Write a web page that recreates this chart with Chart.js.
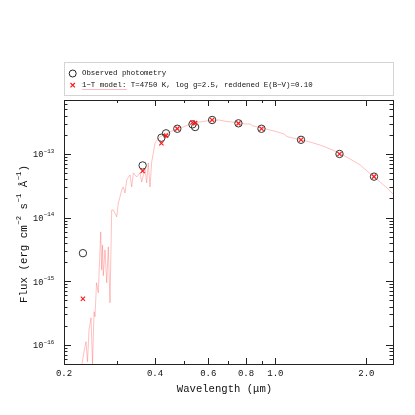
<!DOCTYPE html>
<html>
<head>
<meta charset="utf-8">
<script src="https://cdn.jsdelivr.net/npm/chart.js@4/dist/chart.umd.min.js"></script>
<style>
  html, body { margin: 0; padding: 0; background: #fff; }
  #wrap { width: 415px; height: 415px; }
</style>
</head>
<body>
<div id="wrap"><canvas id="sed"></canvas></div>
<script>
// observed photometry (micron, erg/cm2/s/A)
var obsWave = [0.231, 0.364, 0.420, 0.435, 0.474, 0.532, 0.543, 0.618, 0.755, 0.900, 1.216, 1.630, 2.120];
var obsFlux = [2.76e-15, 6.6e-14, 1.80e-13, 2.11e-13, 2.49e-13, 2.92e-13, 2.65e-13, 3.42e-13, 3.03e-13, 2.49e-13, 1.67e-13, 1.0e-13, 4.4e-14];
// model fluxes at the same bands
var modelFlux = [5.3e-16, 5.4e-14, 1.47e-13, 1.94e-13, 2.50e-13, 3.12e-13, 3.05e-13, 3.42e-13, 3.03e-13, 2.49e-13, 1.67e-13, 1.0e-13, 4.4e-14];
// model spectrum
var specWave = [0.2294, 0.2329, 0.2365, 0.2392, 0.2420, 0.2457, 0.2485, 0.2514, 0.2533, 0.2562, 0.2597, 0.2645, 0.2665, 0.2682, 0.2698, 0.2733, 0.2769, 0.2803, 0.2839, 0.2876, 0.2912, 0.2988, 0.3025, 0.3064, 0.3104, 0.3142, 0.3183, 0.3224, 0.3306, 0.3349, 0.3391, 0.3479, 0.3568, 0.3614, 0.3706, 0.3754, 0.3800, 0.3850, 0.3900, 0.3948, 0.4000, 0.4093, 0.4155, 0.4317, 0.4484, 0.4694, 0.4951, 0.5143, 0.5342, 0.5636, 0.5900, 0.6175, 0.6514, 0.6871, 0.7192, 0.7528, 0.7940, 0.8248, 0.8438, 0.8767, 0.9175, 0.9605, 1.0054, 1.0364, 1.0686, 1.0933, 1.1443, 1.2163, 1.3029, 1.4061, 1.5171, 1.6369, 1.7665, 1.9065, 2.0106, 2.1210, 2.2198, 2.3416, 2.4512];
var specFlux = [5.04e-17, 7.80e-17, 1.12e-16, 5.43e-17, 1.73e-16, 2.66e-16, 5.04e-17, 3.31e-16, 2.76e-16, 9.44e-16, 6.58e-16, 5.97e-15, 1.51e-15, 3.72e-15, 1.22e-15, 3.11e-15, 9.44e-16, 3.47e-15, 4.58e-16, 1.32e-14, 1.32e-14, 1.03e-14, 1.70e-14, 2.11e-14, 2.72e-14, 3.03e-14, 2.44e-14, 3.91e-14, 4.68e-14, 3.03e-14, 5.03e-14, 4.35e-14, 5.03e-14, 3.63e-14, 6.03e-14, 3.51e-14, 7.22e-14, 3.03e-14, 7.49e-14, 1.04e-13, 1.49e-13, 1.72e-13, 1.85e-13, 2.06e-13, 2.21e-13, 2.47e-13, 2.65e-13, 2.85e-13, 3.07e-13, 3.18e-13, 3.30e-13, 3.36e-13, 3.42e-13, 3.24e-13, 3.18e-13, 3.07e-13, 2.96e-13, 2.96e-13, 2.75e-13, 2.65e-13, 2.51e-13, 2.38e-13, 2.25e-13, 2.16e-13, 2.06e-13, 1.87e-13, 1.78e-13, 1.66e-13, 1.54e-13, 1.38e-13, 1.20e-13, 1.02e-13, 8.35e-14, 6.72e-14, 5.41e-14, 4.35e-14, 3.63e-14, 2.92e-14, 2.33e-14];
// axes
var xMajor = [0.2, 0.4, 0.6, 0.8, 1.0, 2.0];
var xMajorLabels = ["0.2", "0.4", "0.6", "0.8", "1.0", "2.0"];
var xMinor = [0.3, 0.5, 0.7, 0.9];
var yDecades = [-16, -15, -14, -13];
var legendLabels = ["Observed photometry", "1\u2212T model: T=4750 K, log g=2.5, reddened E(B\u2212V)=0.10"];

var MONO = "'Liberation Mono', 'DejaVu Sans Mono', monospace";

function pairs(xs, ys) {
  return xs.map(function (x, i) { return { x: x, y: ys[i] }; });
}

// draw "base" with a superscript, returns width used
function supText(ctx, base, sup, x, y, size) {
  ctx.font = size + "px " + MONO;
  ctx.fillText(base, x, y);
  var w = ctx.measureText(base).width;
  ctx.font = (size * 0.68).toFixed(1) + "px " + MONO;
  ctx.fillText(sup, x + w + 0.5, y - size * 0.45);
  return w + 0.5 + ctx.measureText(sup).width;
}

var framePlugin = {
  id: "frame",
  afterDraw(chart) {
    var ctx = chart.ctx, a = chart.chartArea, xs = chart.scales.x, ys = chart.scales.y;
    ctx.save();
    ctx.strokeStyle = "#222";
    ctx.lineWidth = 1;
    ctx.strokeRect(a.left + 0.5, a.top + 0.5, a.right - a.left, a.bottom - a.top);
    ctx.beginPath();
    function xtick(v, len) {
      var p = Math.round(xs.getPixelForValue(v)) + 0.5;
      ctx.moveTo(p, a.bottom); ctx.lineTo(p, a.bottom - len);
      ctx.moveTo(p, a.top); ctx.lineTo(p, a.top + len);
    }
    function ytick(v, len) {
      var p = Math.round(ys.getPixelForValue(v)) + 0.5;
      ctx.moveTo(a.left, p); ctx.lineTo(a.left + len, p);
      ctx.moveTo(a.right, p); ctx.lineTo(a.right - len, p);
    }
    xMajor.forEach(function (v) { xtick(v, 6); });
    xMinor.forEach(function (v) { xtick(v, 3); });
    for (var d = -17; d <= -13; d++) {
      for (var m = 1; m < 10; m++) {
        var v = m * Math.pow(10, d);
        if (v < ys.min || v > ys.max) continue;
        ytick(v, m == 1 ? 7 : 3.5);
      }
    }
    ctx.stroke();

    // tick labels
    ctx.fillStyle = "#111";
    ctx.textBaseline = "middle";
    ctx.textAlign = "center";
    ctx.font = "9px " + MONO;
    xMajor.forEach(function (v, i) {
      ctx.fillText(xMajorLabels[i], xs.getPixelForValue(v), a.bottom + 10);
    });
    ctx.textAlign = "left";
    yDecades.forEach(function (d) {
      var p = ys.getPixelForValue(Math.pow(10, d));
      supText(ctx, "10", "\u2212" + (-d), a.left - 31, p + 1, 8.6);
    });

    // axis titles
    ctx.textAlign = "center";
    ctx.font = "10.6px " + MONO;
    ctx.fillText("Wavelength (\u03bcm)", (a.left + a.right) / 2 - 4, a.bottom + 25);
    ctx.translate(24, (a.top + a.bottom) / 2 + 2);
    ctx.rotate(-Math.PI / 2);
    ctx.textAlign = "left";
    var parts = [["Flux (erg cm", "\u22122"], [" s", "\u22121"], [" \u00c5", "\u22121"]];
    var total = 0;
    parts.forEach(function (p) {
      ctx.font = "10.8px " + MONO; total += ctx.measureText(p[0]).width + 0.5;
      ctx.font = (10.8 * 0.68).toFixed(1) + "px " + MONO; total += ctx.measureText(p[1]).width;
    });
    ctx.font = "10.8px " + MONO; total += ctx.measureText(")").width;
    var x = -total / 2;
    parts.forEach(function (p) { x += supText(ctx, p[0], p[1], x, 0, 10.8); });
    ctx.font = "10.8px " + MONO;
    ctx.fillText(")", x, 0);
    ctx.restore();

    // legend
    ctx.save();
    ctx.strokeStyle = "#d4d4d4";
    ctx.strokeRect(a.left + 0.5, 62.5, a.right - a.left, 33);
    ctx.strokeStyle = "rgba(255,100,100,0.45)";
    ctx.beginPath(); ctx.moveTo(82, 89.5); ctx.lineTo(127, 89.5); ctx.stroke();
    ctx.strokeStyle = "#222";
    ctx.beginPath(); ctx.arc(72.7, 73.5, 3.5, 0, Math.PI * 2); ctx.stroke();
    ctx.strokeStyle = "#ff1a1a";
    ctx.lineWidth = 1.2;
    ctx.beginPath();
    ctx.moveTo(70.5, 83); ctx.lineTo(74.9, 87.4);
    ctx.moveTo(74.9, 83); ctx.lineTo(70.5, 87.4);
    ctx.stroke();
    ctx.fillStyle = "#111";
    ctx.textBaseline = "middle";
    ctx.font = "7.4px " + MONO;
    ctx.fillText(legendLabels[0], 82, 73.5);
    ctx.fillText(legendLabels[1], 82, 85.5);
    ctx.restore();
  },
};

new Chart(document.getElementById("sed"), {
  type: "scatter",
  data: {
    datasets: [
      {
        label: "model spectrum",
        data: pairs(specWave, specFlux),
        showLine: true,
        borderColor: "rgba(255,100,100,0.4)",
        borderWidth: 1,
        pointRadius: 0,
        tension: 0,
        order: 3,
      },
      {
        label: legendLabels[0],
        data: pairs(obsWave, obsFlux),
        pointStyle: "circle",
        pointRadius: 3.7,
        borderColor: "#333",
        backgroundColor: "rgba(0,0,0,0)",
        borderWidth: 1,
        order: 2,
      },
      {
        label: legendLabels[1],
        data: pairs(obsWave, modelFlux),
        pointStyle: "crossRot",
        pointRadius: 3,
        borderColor: "#ff1a1a",
        borderWidth: 1.2,
        order: 1,
      },
    ],
  },
  options: {
    responsive: true,
    maintainAspectRatio: false,
    animation: false,
    layout: { padding: { left: 64, right: 22, top: 100, bottom: 51 } },
    scales: {
      x: { type: "logarithmic", min: 0.2, max: 2.45, display: false },
      y: { type: "logarithmic", min: 5.03e-17, max: 7.05e-13, display: false },
    },
    plugins: { legend: { display: false }, tooltip: { enabled: false } },
  },
  plugins: [framePlugin],
});
</script>
</body>
</html>
